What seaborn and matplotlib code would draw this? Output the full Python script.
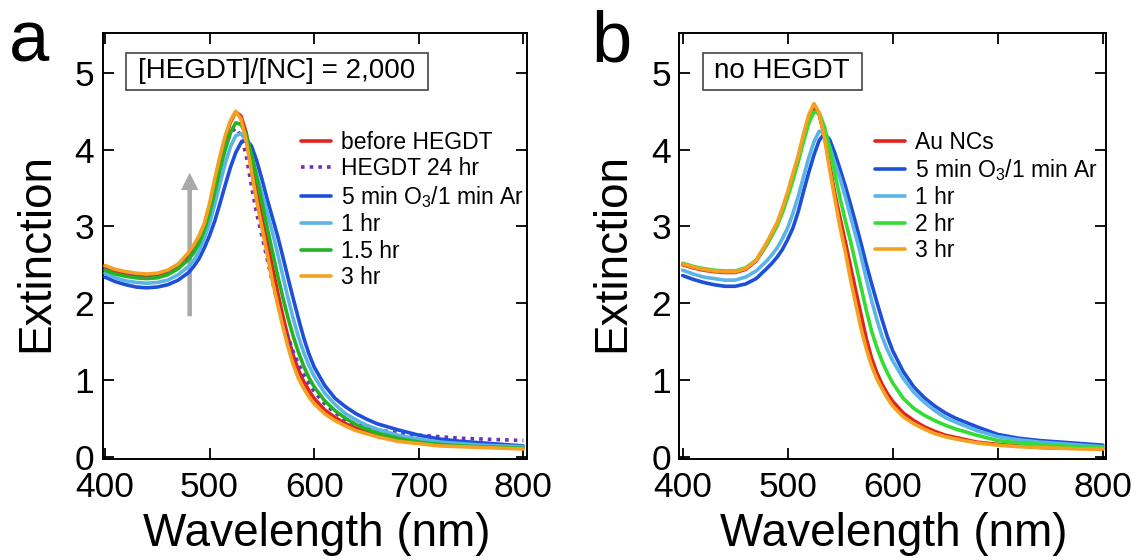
import matplotlib
matplotlib.use("Agg")
import matplotlib.pyplot as plt
import seaborn as sns
import pandas as pd
from matplotlib.patches import Rectangle

# ---------------- data ----------------
wavelength = [400, 410, 420, 430, 440, 450, 460, 470, 480,
              485, 490, 495, 500, 505, 510, 515, 520, 525, 530, 535, 540, 545, 550,
              555, 560, 565, 570, 575, 580, 585, 590, 595, 600,
              610, 620, 630, 640, 650, 660,
              680, 700, 720, 740, 760, 780, 800]

# panel a : [HEGDT]/[NC] = 2,000
a_before = [2.47, 2.42, 2.39, 2.37, 2.36, 2.37, 2.41, 2.49, 2.64,
            2.74, 2.86, 3.02, 3.26, 3.57, 3.87, 4.14, 4.36, 4.49, 4.44, 4.22, 3.84, 3.46, 3.12,
            2.82, 2.48, 2.15, 1.84, 1.56, 1.32, 1.13, 0.98, 0.86, 0.76,
            0.61, 0.51, 0.43, 0.37, 0.32, 0.28,
            0.22, 0.19, 0.16, 0.14, 0.13, 0.12, 0.11]
a_24hr = [2.45, 2.40, 2.37, 2.35, 2.34, 2.35, 2.39, 2.47, 2.61,
          2.71, 2.83, 2.99, 3.22, 3.50, 3.78, 4.03, 4.22, 4.28, 4.18, 3.93, 3.53, 3.17, 2.88,
          2.58, 2.29, 2.01, 1.77, 1.56, 1.37, 1.21, 1.07, 0.95, 0.85,
          0.69, 0.57, 0.48, 0.42, 0.38, 0.35,
          0.31, 0.28, 0.26, 0.24, 0.23, 0.22, 0.21]
a_ozone = [2.34, 2.28, 2.24, 2.21, 2.20, 2.21, 2.24, 2.30, 2.40,
           2.48, 2.58, 2.72, 2.88, 3.07, 3.30, 3.54, 3.77, 3.96, 4.09, 4.13, 4.05, 3.86, 3.62,
           3.36, 3.12, 2.88, 2.61, 2.33, 2.06, 1.80, 1.55, 1.34, 1.17,
           0.93, 0.76, 0.65, 0.56, 0.49, 0.43,
           0.35, 0.28, 0.23, 0.20, 0.18, 0.16, 0.14]
a_1hr = [2.39, 2.33, 2.29, 2.27, 2.26, 2.27, 2.30, 2.37, 2.48,
         2.56, 2.68, 2.84, 3.04, 3.29, 3.56, 3.82, 4.04, 4.18, 4.21, 4.12, 3.92, 3.68, 3.44,
         3.19, 2.93, 2.65, 2.36, 2.07, 1.80, 1.56, 1.36, 1.19, 1.05,
         0.83, 0.68, 0.56, 0.48, 0.41, 0.36,
         0.28, 0.23, 0.19, 0.17, 0.15, 0.14, 0.13]
a_15hr = [2.43, 2.38, 2.35, 2.33, 2.32, 2.33, 2.37, 2.45, 2.57,
          2.66, 2.78, 2.95, 3.17, 3.45, 3.74, 4.00, 4.22, 4.35, 4.33, 4.20, 3.95, 3.65, 3.32,
          2.99, 2.68, 2.37, 2.08, 1.81, 1.57, 1.36, 1.18, 1.03, 0.91,
          0.73, 0.60, 0.50, 0.42, 0.36, 0.31,
          0.24, 0.19, 0.16, 0.14, 0.13, 0.12, 0.11]
a_3hr = [2.49, 2.44, 2.41, 2.39, 2.38, 2.39, 2.43, 2.51, 2.66,
         2.76, 2.88, 3.04, 3.30, 3.62, 3.92, 4.18, 4.38, 4.50, 4.40, 4.12, 3.72, 3.34, 2.99,
         2.65, 2.30, 1.99, 1.70, 1.43, 1.20, 1.02, 0.89, 0.78, 0.69,
         0.56, 0.47, 0.40, 0.34, 0.30, 0.26,
         0.20, 0.17, 0.14, 0.13, 0.12, 0.11, 0.10]

# panel b : no HEGDT
b_au = [2.50, 2.46, 2.43, 2.41, 2.40, 2.40, 2.44, 2.55, 2.76,
        2.89, 3.02, 3.20, 3.41, 3.64, 3.87, 4.14, 4.39, 4.54, 4.46, 4.18, 3.80, 3.42, 3.10,
        2.79, 2.47, 2.15, 1.84, 1.53, 1.28, 1.09, 0.94, 0.82, 0.72,
        0.57, 0.47, 0.39, 0.33, 0.28, 0.25,
        0.19, 0.16, 0.14, 0.12, 0.11, 0.11, 0.10]
b_ozone = [2.36, 2.31, 2.27, 2.24, 2.22, 2.22, 2.25, 2.32, 2.45,
           2.52, 2.60, 2.70, 2.83, 2.98, 3.19, 3.45, 3.70, 3.93, 4.12, 4.21, 4.13, 3.95, 3.74,
           3.52, 3.28, 3.03, 2.77, 2.50, 2.25, 2.01, 1.78, 1.56, 1.38,
           1.11, 0.91, 0.77, 0.66, 0.57, 0.50,
           0.39, 0.29, 0.24, 0.21, 0.19, 0.17, 0.15]
b_1hr = [2.43, 2.38, 2.34, 2.32, 2.30, 2.30, 2.34, 2.42, 2.55,
         2.63, 2.72, 2.84, 2.98, 3.17, 3.39, 3.64, 3.89, 4.10, 4.24, 4.22, 4.04, 3.82, 3.62,
         3.38, 3.12, 2.87, 2.60, 2.31, 2.03, 1.78, 1.56, 1.39, 1.25,
         1.02, 0.84, 0.71, 0.60, 0.51, 0.45,
         0.34, 0.26, 0.22, 0.19, 0.17, 0.15, 0.13]
b_2hr = [2.52, 2.48, 2.45, 2.43, 2.42, 2.42, 2.46, 2.56, 2.76,
         2.88, 3.01, 3.18, 3.38, 3.60, 3.84, 4.10, 4.34, 4.49, 4.48, 4.30, 4.02, 3.68, 3.36,
         3.07, 2.80, 2.50, 2.20, 1.90, 1.63, 1.42, 1.24, 1.09, 0.96,
         0.76, 0.63, 0.54, 0.47, 0.41, 0.36,
         0.28, 0.21, 0.18, 0.16, 0.14, 0.13, 0.12]
b_3hr = [2.51, 2.47, 2.44, 2.42, 2.41, 2.41, 2.45, 2.56, 2.79,
         2.92, 3.05, 3.24, 3.45, 3.69, 3.92, 4.20, 4.45, 4.60, 4.48, 4.16, 3.74, 3.35, 2.98,
         2.66, 2.30, 1.98, 1.66, 1.40, 1.18, 1.01, 0.88, 0.76, 0.66,
         0.52, 0.43, 0.36, 0.30, 0.26, 0.23,
         0.18, 0.15, 0.13, 0.12, 0.11, 0.10, 0.10]

labels_a = ["before HEGDT", "HEGDT 24 hr", r"5 min O$_{\mathregular{3}}$/1 min Ar",
            "1 hr", "1.5 hr", "3 hr"]
labels_b = ["Au NCs", r"5 min O$_{\mathregular{3}}$/1 min Ar", "1 hr", "2 hr", "3 hr"]
series_a = [a_before, a_24hr, a_ozone, a_1hr, a_15hr, a_3hr]
series_b = [b_au, b_ozone, b_1hr, b_2hr, b_3hr]
colors_a = ["#e2231a", "#7030b8", "#1e4fd8", "#5ab4e6", "#22b422", "#f4a020"]
colors_b = ["#e2231a", "#1e4fd8", "#5ab4e6", "#33dd33", "#f4a020"]
styles_a = ["-", (0, (1, 1.4)), "-", "-", "-", "-"]
styles_b = ["-"] * 5

xticks = [400, 500, 600, 700, 800]
yticks = [0, 1, 2, 3, 4, 5]

# ---------------- style ----------------
sns.set_theme(style="ticks")
plt.rcParams["font.family"] = ["Liberation Sans", "DejaVu Sans"]
plt.rcParams["mathtext.fontset"] = "custom"
plt.rcParams["mathtext.rm"] = "Liberation Sans"
plt.rcParams["mathtext.it"] = "Liberation Sans:italic"
plt.rcParams["text.color"] = "black"
plt.rcParams["axes.labelcolor"] = "black"
plt.rcParams["xtick.color"] = "black"
plt.rcParams["ytick.color"] = "black"

fig = plt.figure(figsize=(11.38, 5.6), dpi=100)
ax_a = fig.add_axes([0.0902, 0.1804, 0.3726, 0.7607])
ax_b = fig.add_axes([0.5969, 0.1804, 0.3750, 0.7607])


def draw(ax, series, labels, colors, styles, xlim):
    for vals, lab, col, ls in zip(series, labels, colors, styles):
        df = pd.DataFrame({"wl": wavelength, "ext": vals})
        sns.lineplot(data=df, x="wl", y="ext", ax=ax, color=col, lw=2.6,
                     label=lab, sort=False, estimator=None, zorder=3)
        ax.lines[-1].set_linestyle(ls)
        ax.lines[-1].set_solid_capstyle("round")
    ax.set_xlim(*xlim)
    ax.set_ylim(-0.03, 5.52)
    ax.set_xticks(xticks)
    ax.set_yticks(yticks)
    ax.tick_params(direction="in", top=True, right=True, length=8, width=1.3,
                   labelsize=25.5, colors="black")
    ax.tick_params(axis="x", pad=9)
    ax.tick_params(axis="y", pad=6)
    for s in ax.spines.values():
        s.set_linewidth(1.4)
        s.set_color("black")
    ax.set_xlabel("Wavelength (nm)", fontsize=33, va="baseline")
    ax.set_ylabel("Extinction", fontsize=33, va="center")


draw(ax_a, series_a, labels_a, colors_a, styles_a, (397.8, 803.2))
draw(ax_b, series_b, labels_b, colors_b, styles_b, (396.8, 803.1))

ax_a.xaxis.set_label_coords(0.505, -0.204)
ax_b.xaxis.set_label_coords(0.503, -0.204)
ax_a.yaxis.set_label_coords(-0.156, 0.484)
ax_b.yaxis.set_label_coords(-0.157, 0.484)

# legends
leg_kw = dict(frameon=False, fontsize=16.5, handlelength=1.31, handletextpad=0.45,
              labelspacing=0.15, borderpad=0, borderaxespad=0, loc="upper left")
ax_a.legend(bbox_to_anchor=(0.468, 0.770), **leg_kw)
ax_b.legend(bbox_to_anchor=(0.459, 0.771), **leg_kw)

# grey arrow in panel a
ax_a.annotate("", xy=(481, 3.70), xytext=(481, 1.83),
              arrowprops=dict(width=3.3, headwidth=12.5, headlength=12.5,
                              color="#a9a9a9", shrink=0, lw=0), zorder=1)

# boxed labels
ax_a.add_patch(Rectangle((0.056, 0.866), 0.711, 0.087, transform=ax_a.transAxes,
                         fill=True, fc="white", ec="#444444", lw=1.2, zorder=5))
ax_a.text(0.411, 0.9096, "[HEGDT]/[NC] = 2,000", transform=ax_a.transAxes,
          ha="center", va="center", fontsize=20, zorder=6)
ax_b.add_patch(Rectangle((0.0555, 0.866), 0.372, 0.087, transform=ax_b.transAxes,
                         fill=True, fc="white", ec="#444444", lw=1.2, zorder=5))
ax_b.text(0.241, 0.9096, "no HEGDT", transform=ax_b.transAxes,
          ha="center", va="center", fontsize=20, zorder=6)

# panel letters
fig.text(9 / 1138, 1 - 62 / 560, "a", fontsize=52, va="baseline", ha="left")
fig.text(591 / 1138, 1 - 62 / 560, "b", fontsize=52, va="baseline", ha="left")

fig.savefig("out.png", dpi=100)
